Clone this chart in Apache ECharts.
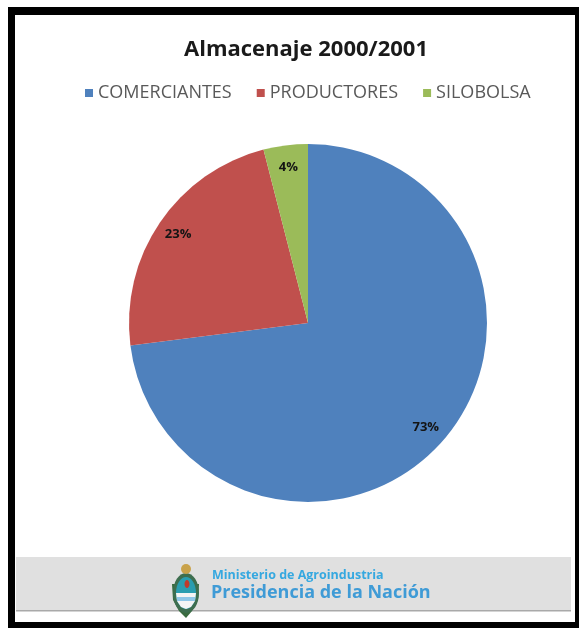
<!DOCTYPE html>
<html>
<head>
<meta charset="utf-8">
<script src="https://cdn.jsdelivr.net/npm/echarts@6/dist/echarts.min.js"></script>
<style>
html,body{margin:0;padding:0;background:#fff;}
#chart{width:579px;height:631px;}
</style>
</head>
<body>
<div id="chart"></div>
<script>
const titleText = 'Almacenaje 2000/2001';
const categories = ['COMERCIANTES', 'PRODUCTORES', 'SILOBOLSA'];
const values = [73, 23, 4];
const colors = ['#4F81BD', '#C0504D', '#9BBB59'];
const footerLine1 = 'Ministerio de Agroindustria';
const footerLine2 = 'Presidencia de la Nación';

const chart = echarts.init(document.getElementById('chart'), null, {renderer: 'canvas'});

const pieData = categories.map((c, i) => ({name: c, value: values[i], itemStyle: {color: colors[i]}}));
const labelData = categories.map((c, i) => ({name: c, value: values[i]}));

const option = {
  backgroundColor: '#ffffff',
  animation: false,
  title: {
    text: titleText,
    left: 179,
    top: 34,
    textStyle: {fontFamily: 'Open Sans', fontWeight: 'bold', fontSize: 22, color: '#1a1a1a'}
  },
  legend: {
    top: 79,
    left: 80,
    itemWidth: 8,
    itemHeight: 8,
    itemGap: 25,
    icon: 'rect',
    data: categories.map((c, i) => ({name: c, itemStyle: {color: colors[i], opacity: 1}})),
    textStyle: {fontFamily: 'Open Sans', fontSize: 18, color: '#595959'},
    selectedMode: false
  },
  series: [
    {
      type: 'pie',
      center: [308, 323],
      radius: [0, 179],
      startAngle: 90,
      clockwise: true,
      label: {show: false},
      labelLine: {show: false},
      emphasis: {disabled: true},
      data: pieData
    },
    {
      type: 'pie',
      center: [308, 323],
      radius: [129, 179],
      startAngle: 90,
      clockwise: true,
      silent: true,
      legendHoverLink: false,
      itemStyle: {color: 'rgba(0,0,0,0)'},
      label: {
        show: true,
        position: 'inside',
        formatter: '{c}%',
        fontFamily: 'Open Sans',
        fontWeight: 'bold',
        fontSize: 13,
        color: '#141414'
      },
      labelLine: {show: false},
      emphasis: {disabled: true},
      data: labelData
    }
  ],
  graphic: [
    {type: 'rect', z: -10, shape: {x: 16, y: 557, width: 555, height: 54}, style: {fill: '#e0e0e0'}},
    {type: 'rect', z: -9, shape: {x: 16, y: 610, width: 555, height: 1.5}, style: {fill: '#a9a9a9'}},
    // border
    {type: 'rect', z: 10, shape: {x: 8, y: 7, width: 571, height: 8}, style: {fill: '#000'}},
    {type: 'rect', z: 10, shape: {x: 8, y: 7, width: 7, height: 621}, style: {fill: '#000'}},
    {type: 'rect', z: 10, shape: {x: 8, y: 622, width: 571, height: 6}, style: {fill: '#000'}},
    {type: 'rect', z: 10, shape: {x: 575, y: 7, width: 4, height: 621}, style: {fill: '#000'}},
    // logo
    {type: 'polygon', z: 0, shape: {points: [[172,584],[173,600],[179,611],[186,618],[192,611],[198,600],[199,584]]}, style: {fill: '#3a6b3f'}},
    {type: 'ellipse', z: 1, shape: {cx: 186, cy: 593, rx: 13, ry: 20}, style: {fill: '#3d6e4f'}},
    {type: 'ellipse', z: 2, shape: {cx: 186, cy: 593, rx: 10, ry: 16}, style: {fill: '#2a9db0'}},
    {type: 'polygon', z: 3, shape: {points: [[176,593],[196,593],[195,601],[191,607],[186,609],[181,607],[177,601]]}, style: {fill: '#f4f4f4'}},
    {type: 'rect', z: 4, shape: {x: 177, y: 597, width: 18, height: 4}, style: {fill: '#8fc7e8'}},
    {type: 'ellipse', z: 5, shape: {cx: 187, cy: 584, rx: 2.5, ry: 4}, style: {fill: '#c0392b'}},
    {type: 'circle', z: 5, shape: {cx: 186, cy: 569, r: 5}, style: {fill: '#c9a24a'}},
    {type: 'text', z: 5, left: 212, top: 569, style: {text: footerLine1, font: 'bold 12.5px "Open Sans"', fill: '#35a8e0'}},
    {type: 'text', z: 5, left: 211, top: 584, style: {text: footerLine2, font: 'bold 18px "Open Sans"', fill: '#3f9bd6'}}
  ]
};
chart.setOption(option);
</script>
</body>
</html>
